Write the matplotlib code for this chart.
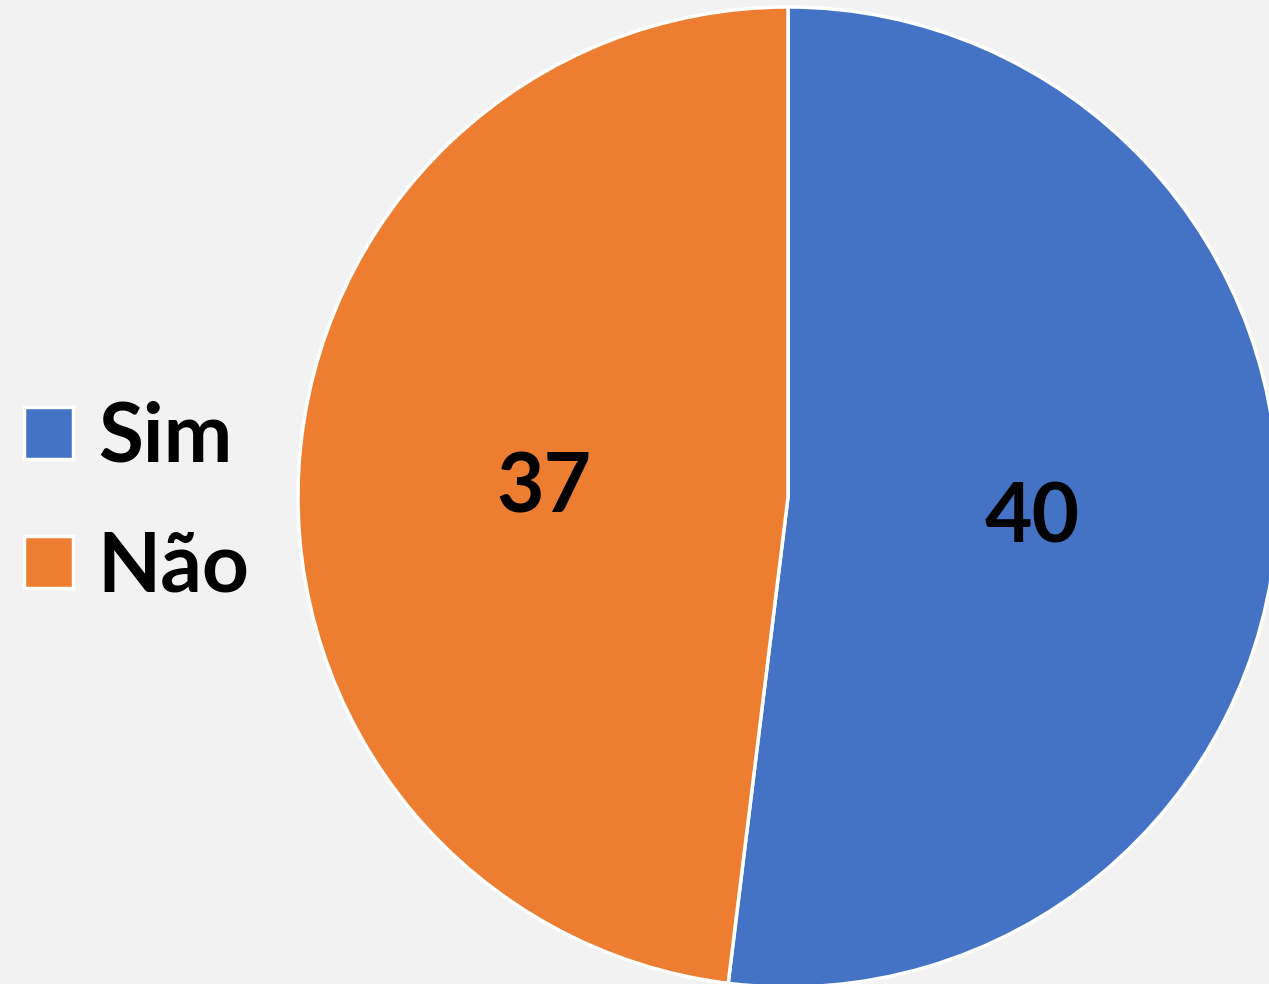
import matplotlib.pyplot as plt

labels = ["Sim", "Não"]
values = [40, 37]
colors = ["#4472C4", "#ED7D31"]

fig = plt.figure(figsize=(12.69, 9.84), dpi=100)
fig.patch.set_facecolor("#F2F2F2")
ax = fig.add_axes([0, 0, 1, 1])
ax.set_facecolor("#F2F2F2")

wedges, texts, autotexts = ax.pie(
    values, colors=colors, startangle=90, counterclock=False,
    center=(788, 984 - 497), radius=490,
    autopct=lambda p: "{:.0f}".format(p * sum(values) / 100),
    pctdistance=0.5,
    wedgeprops=dict(edgecolor="white", linewidth=2.5),
    textprops=dict(fontsize=59, fontweight="bold", family="Lato", color="black"),
)
for t in autotexts:
    t.set_va("center_baseline")

ax.set_xlim(0, 1269)
ax.set_ylim(0, 984)
ax.set_aspect("equal")
ax.axis("off")

leg = ax.legend(wedges, labels, loc="center left",
                bbox_to_anchor=(24 / 1269, 1 - 503 / 984), frameon=False,
                borderpad=0, borderaxespad=0,
                prop=dict(family="Lato", weight="bold", size=59),
                handlelength=0.6, handleheight=0.6,
                handletextpad=0.3, labelspacing=0.66)
for h in leg.legend_handles:
    h.set_edgecolor("white")
    h.set_linewidth(2.5)

fig.savefig("out.png", dpi=100, facecolor=fig.get_facecolor())
